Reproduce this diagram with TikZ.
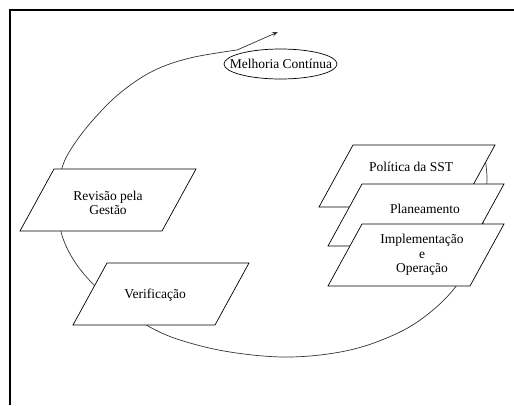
\documentclass[tikz,border=0pt]{standalone}
\usepackage{fontspec}
\setmainfont{Liberation Serif}
\usetikzlibrary{arrows.meta}

\tikzset{
  stepbox/.style={draw=black, line width=0.7pt, fill=white, line join=miter},
  boxtext/.style={font=\fontsize{13.5}{14.5}\selectfont, align=center, inner sep=0pt},
  cycleline/.style={draw=black!80, line width=0.7pt},
  frameline/.style={line width=1.6pt, line join=miter}
}

% slanted box: bottom-left corner given, top edge shifted right
\newcommand\slantbox[1]{%
  \path[stepbox] (#1) -- ++(142,0) -- ++(34,-62) -- ++(-142,0) -- cycle;}

\begin{document}
\begin{tikzpicture}[x=1pt, y=-1pt]
\useasboundingbox (0,0) rectangle (514,405);

% frame (top and left sides)
\draw[frameline] (10,405) -- (10,10) -- (514,10);

% improvement spiral
\coordinate (tip) at (278,32);
\draw[cycleline, -{Stealth[length=6pt, width=4.5pt]}]
  plot[smooth, tension=0.6] coordinates {
    (485,158) (487,178) (485,205) (482,228) (472,258) (457,285)
    (433,310) (400,332) (350,350) (290,357) (230,352) (180,340)
    (148,326) (120,307) (93,284) (73,259) (61,232) (57,200)
    (62,168) (73,146) (93,120) (120,93) (153,71) (190,58) (237,50)}
  -- (tip);

% continuous improvement label
\node[boxtext] (mc) at (281,64) {Melhoria Contínua};
\draw[line width=0.7pt] (280.5,64) ellipse [x radius=56.5pt, y radius=15pt];

% slanted boxes
\coordinate (rev) at (20,231);
\coordinate (ver) at (73,325);
\coordinate (pol) at (319,207);
\coordinate (pla) at (328,246);
\coordinate (imp) at (328,286);
\slantbox{rev}
\node[boxtext] (revt) at (108,203) {Revisão pela\\Gestão};
\slantbox{ver}
\node[boxtext] (vert) at (155,295) {Verificação};
\slantbox{pol}
\node[boxtext] (polt) at (411,167) {Política da SST};
\slantbox{pla}
\node[boxtext] (plat) at (425,209) {Planeamento};
\slantbox{imp}
\node[boxtext] (impt) at (422,255) {Implementação\\e\\Operação};
\end{tikzpicture}
\end{document}
